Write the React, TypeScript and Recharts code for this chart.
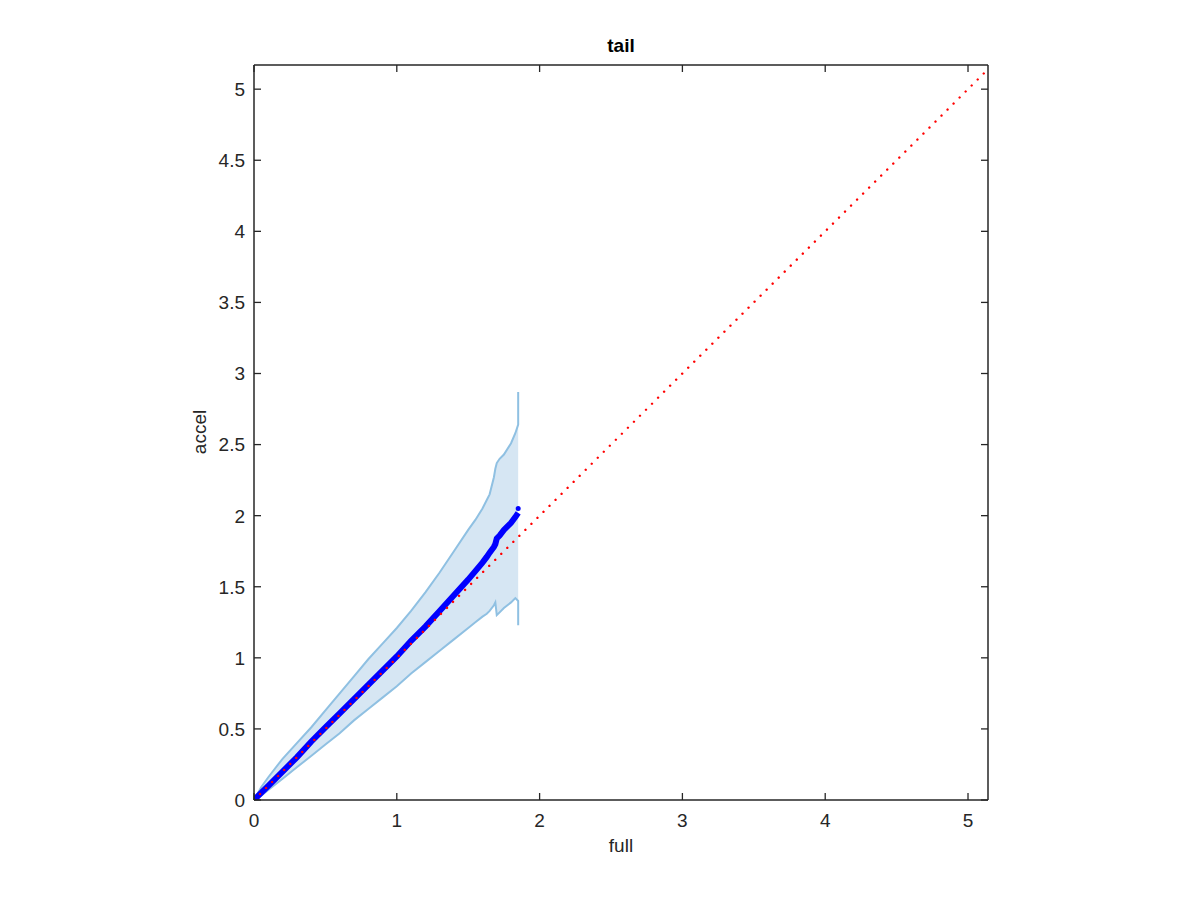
import React from "react";
import { ComposedChart, XAxis, YAxis, Line, Area, Scatter } from "recharts";

// ---- data ----
const xs = [0, 0.05, 0.1, 0.2, 0.3, 0.4, 0.5, 0.6, 0.7, 0.8, 0.9, 1.0, 1.1, 1.2, 1.3, 1.4, 1.5, 1.55, 1.6, 1.63, 1.65, 1.68, 1.69, 1.7, 1.72, 1.75, 1.8, 1.83, 1.85, 1.85];
const upper = [0, 0.09, 0.16, 0.29, 0.4, 0.51, 0.63, 0.75, 0.87, 0.99, 1.1, 1.21, 1.33, 1.46, 1.6, 1.75, 1.9, 1.97, 2.05, 2.11, 2.15, 2.27, 2.33, 2.37, 2.4, 2.43, 2.51, 2.58, 2.64, 2.87];
const lower = [0, 0.03, 0.07, 0.15, 0.23, 0.31, 0.39, 0.47, 0.56, 0.64, 0.72, 0.8, 0.89, 0.97, 1.05, 1.13, 1.21, 1.25, 1.29, 1.31, 1.33, 1.37, 1.39, 1.3, 1.32, 1.35, 1.39, 1.42, 1.4, 1.23];
const blue = [0, 0.05, 0.1, 0.2, 0.3, 0.41, 0.51, 0.61, 0.71, 0.81, 0.91, 1.01, 1.12, 1.22, 1.33, 1.44, 1.55, 1.61, 1.67, 1.71, 1.74, 1.78, 1.8, 1.84, 1.86, 1.9, 1.95, 1.99, 2.02, 2.02];
const endPoint = [{ x: 1.85, y: 2.05 }];
const diagonal = [{ x: 0, y: 0 }, { x: 5.14, y: 5.14 }];
const xTicks = [0, 1, 2, 3, 4, 5];
const yTicks = [0, 0.5, 1, 1.5, 2, 2.5, 3, 3.5, 4, 4.5, 5];
const XDOMAIN: [number, number] = [0, 5.14];
const YDOMAIN: [number, number] = [0, 5.17];

const data = xs.map((x, i) => ({
  x,
  band: [lower[i], upper[i]],
  hi: upper[i],
  lo: lower[i],
  blue: blue[i],
}));

const AX = "#262626";
const FONT = "'Liberation Sans', Arial, Helvetica, sans-serif";
const TICK_FS = 19;
const TL = 7;

const BottomTick = (props: any) => {
  const { x, y, payload } = props;
  return (
    <g>
      <line x1={x} y1={y} x2={x} y2={y - TL} stroke={AX} strokeWidth={1.3} />
      <text x={x} y={y + 27} textAnchor="middle" fill={AX} fontSize={TICK_FS} fontFamily={FONT}>
        {payload.value}
      </text>
    </g>
  );
};
const TopTick = (props: any) => {
  const { x, y } = props;
  return <line x1={x} y1={y} x2={x} y2={y + TL} stroke={AX} strokeWidth={1.3} />;
};
const LeftTick = (props: any) => {
  const { x, y, payload } = props;
  return (
    <g>
      <line x1={x} y1={y} x2={x + TL} y2={y} stroke={AX} strokeWidth={1.3} />
      <text x={x - 9} y={y} dy="0.36em" textAnchor="end" fill={AX} fontSize={TICK_FS} fontFamily={FONT}>
        {payload.value}
      </text>
    </g>
  );
};
const RightTick = (props: any) => {
  const { x, y } = props;
  return <line x1={x} y1={y} x2={x - TL} y2={y} stroke={AX} strokeWidth={1.3} />;
};

export default function App() {
  return (
    <div style={{ position: "absolute", left: 0, top: 0, width: 1200, height: 900, background: "#fff" }}>
      <ComposedChart
        width={1200}
        height={900}
        data={data}
        margin={{ top: 64, right: 211, bottom: 0, left: 194 }}
      >
        <XAxis
          type="number"
          dataKey="x"
          domain={XDOMAIN}
          allowDataOverflow
          ticks={xTicks}
          height={100}
          tickSize={0}
          tickMargin={0}
          tick={<BottomTick />}
          axisLine={{ stroke: AX, strokeWidth: 1.5 }}
          tickLine={false}
          interval={0}
        />
        <XAxis
          xAxisId="t"
          orientation="top"
          type="number"
          dataKey="x"
          domain={XDOMAIN}
          allowDataOverflow
          ticks={xTicks}
          height={1}
          tickSize={0}
          tickMargin={0}
          tick={<TopTick />}
          axisLine={{ stroke: AX, strokeWidth: 1.5 }}
          tickLine={false}
          interval={0}
        />
        <YAxis
          type="number"
          domain={YDOMAIN}
          allowDataOverflow
          ticks={yTicks}
          width={60}
          tickSize={0}
          tickMargin={0}
          tick={<LeftTick />}
          axisLine={{ stroke: AX, strokeWidth: 1.5 }}
          tickLine={false}
          interval={0}
        />
        <YAxis
          yAxisId="r"
          orientation="right"
          type="number"
          domain={YDOMAIN}
          allowDataOverflow
          ticks={yTicks}
          width={1}
          tickSize={0}
          tickMargin={0}
          tick={<RightTick />}
          axisLine={{ stroke: AX, strokeWidth: 1.5 }}
          tickLine={false}
          interval={0}
        />
        <Area
          dataKey="band"
          type="linear"
          fill="#d6e6f3"
          fillOpacity={1}
          stroke="none"
          isAnimationActive={false}
          dot={false}
          activeDot={false}
        />
        <Line dataKey="hi" type="linear" stroke="#8fc0e2" strokeWidth={2} dot={false} activeDot={false} isAnimationActive={false} />
        <Line dataKey="lo" type="linear" stroke="#8fc0e2" strokeWidth={2} dot={false} activeDot={false} isAnimationActive={false} />
        <Line dataKey="blue" type="linear" stroke="#0000ff" strokeWidth={6} dot={false} activeDot={false} isAnimationActive={false} />
        <Line
          data={diagonal}
          xAxisId="t"
          yAxisId="r"
          dataKey="y"
          type="linear"
          stroke="#ff0000"
          strokeWidth={2.4}
          strokeDasharray="0.01 8.5"
          strokeLinecap="round"
          dot={false}
          activeDot={false}
          isAnimationActive={false}
        />
        <Scatter data={endPoint} dataKey="y" fill="#0000ff" shape={(p: any) => <circle cx={p.cx} cy={p.cy} r={2.5} fill="#0000ff" />} isAnimationActive={false} />
      </ComposedChart>
      <svg width={1200} height={900} style={{ position: "absolute", left: 0, top: 0, pointerEvents: "none" }}>
        <text x={621} y={45} dy="0.35em" textAnchor="middle" fontWeight="bold" fontSize={19} fontFamily={FONT} fill="#000">
          tail
        </text>
        <text x={621} y={845} dy="0.35em" textAnchor="middle" fontSize={19} fontFamily={FONT} fill={AX}>
          full
        </text>
        <text x={199} y={432} dy="0.35em" textAnchor="middle" fontSize={19} fontFamily={FONT} fill={AX} transform="rotate(-90 199 432)">
          accel
        </text>
      </svg>
    </div>
  );
}
